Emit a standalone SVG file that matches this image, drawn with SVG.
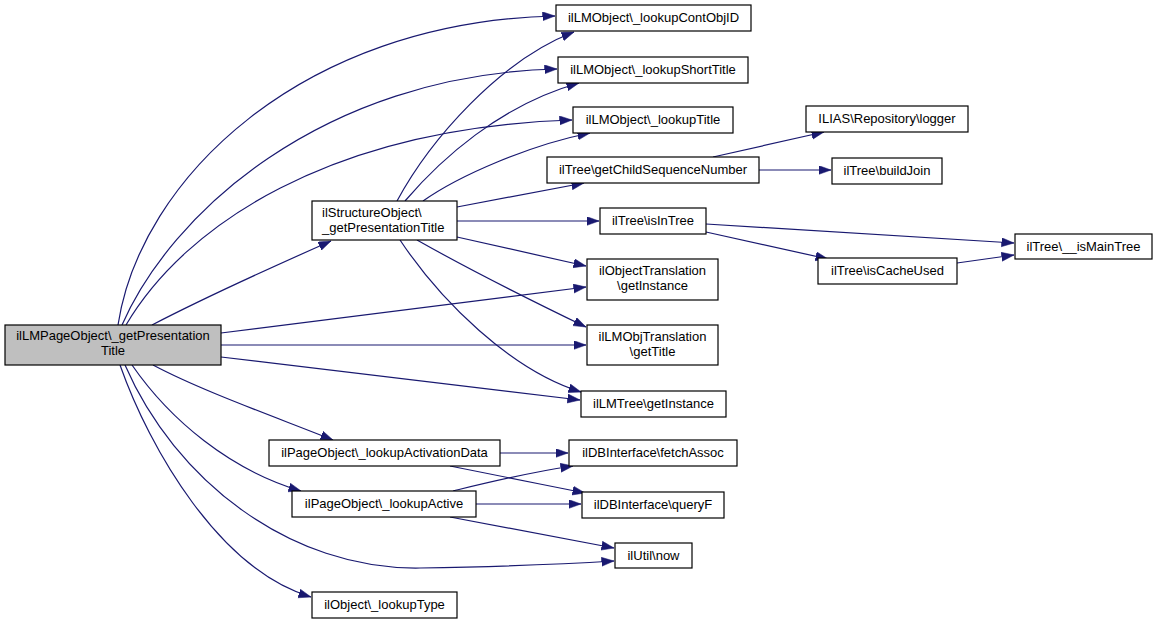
<svg xmlns="http://www.w3.org/2000/svg" width="1157" height="624" viewBox="0 0 1157 624">
<style>
.n rect{fill:#fff;stroke:#000;stroke-width:1.2}
.n.main rect{fill:#bfbfbf}
.n text{font-family:"Liberation Sans",Arial,sans-serif;font-size:13px;fill:#000;text-anchor:middle}
.n text.l{text-anchor:start}
#edges path{fill:none;stroke:#191970;stroke-width:1.2;marker-end:url(#ah)}
</style>
<defs>
<marker id="ah" markerUnits="userSpaceOnUse" markerWidth="13" markerHeight="10" refX="12.5" refY="4.5" orient="auto">
<path d="M0,0 L12.5,4.5 L0,9 z" fill="#191970" stroke="#191970" stroke-width="0.5"/>
</marker>
</defs>
<rect width="1157" height="624" fill="#fff"/>
<g id="edges">
<path d="M118,325 C140,180 300,22 555,16"/>
<path d="M122,325 C170,215 320,75 557,69"/>
<path d="M126,325 C185,225 330,128 572,120"/>
<path d="M152,325 C200,300 270,268 331,241"/>
<path d="M221,333 L586,287"/>
<path d="M221,345 L586,345"/>
<path d="M221,357 L580,400"/>
<path d="M153,365 C200,390 270,415 333,440"/>
<path d="M132,365 C170,420 230,470 301,491"/>
<path d="M125,365 C175,480 290,570 420,568 C480,567 550,565 614,561"/>
<path d="M120,365 C150,450 220,570 311,597"/>
<path d="M397,201 C430,140 500,60 574,32"/>
<path d="M405,201 C440,160 500,105 579,83"/>
<path d="M423,201 C460,175 530,145 590,133"/>
<path d="M457,207 L584,183"/>
<path d="M457,221 L599,221"/>
<path d="M457,237 L586,266"/>
<path d="M417,240 C470,270 530,300 586,327"/>
<path d="M400,240 C440,300 510,370 581,392"/>
<path d="M713,157 L824,132"/>
<path d="M759,170 L831,170"/>
<path d="M706,224 L1014,243"/>
<path d="M706,232 L828,259"/>
<path d="M957,263 L1014,255"/>
<path d="M500,453 L568,453"/>
<path d="M450,466 C500,476 540,484 585,493"/>
<path d="M453,491 C490,482 530,472 573,466"/>
<path d="M476,504 L581,504"/>
<path d="M450,517 L614,548"/>
</g>
<g id="n_main" class="n main"><rect x="5" y="325" width="216" height="40"/><text x="113" y="340">ilLMPageObject\_getPresentation</text><text x="113" y="355">Title</text></g>
<g id="n_struct" class="n"><rect x="312" y="201" width="145" height="39"/><text class="l" x="322" y="217">ilStructureObject\</text><text class="l" x="322" y="232">_getPresentationTitle</text></g>
<g id="n_contobj" class="n"><rect x="556" y="5" width="195" height="26"/><text x="653.5" y="22">ilLMObject\_lookupContObjID</text></g>
<g id="n_shorttitle" class="n"><rect x="558" y="57" width="190" height="26"/><text x="653" y="74">ilLMObject\_lookupShortTitle</text></g>
<g id="n_title" class="n"><rect x="573" y="107" width="160" height="26"/><text x="653" y="124">ilLMObject\_lookupTitle</text></g>
<g id="n_childseq" class="n"><rect x="547" y="157" width="212" height="26"/><text x="653" y="174">ilTree\getChildSequenceNumber</text></g>
<g id="n_isintree" class="n"><rect x="600" y="208" width="106" height="26"/><text x="653" y="225">ilTree\isInTree</text></g>
<g id="n_objtrans" class="n"><rect x="587" y="259" width="131" height="41"/><text x="652.5" y="275">ilObjectTranslation</text><text x="652.5" y="290">\getInstance</text></g>
<g id="n_lmobjtrans" class="n"><rect x="587" y="325" width="131" height="40"/><text x="652.5" y="341">ilLMObjTranslation</text><text x="652.5" y="356">\getTitle</text></g>
<g id="n_lmtree" class="n"><rect x="581" y="391" width="145" height="26"/><text x="653.5" y="408">ilLMTree\getInstance</text></g>
<g id="n_logger" class="n"><rect x="806" y="106" width="162" height="26"/><text x="887" y="123">ILIAS\Repository\logger</text></g>
<g id="n_buildjoin" class="n"><rect x="832" y="158" width="110" height="26"/><text x="887" y="175">ilTree\buildJoin</text></g>
<g id="n_cacheused" class="n"><rect x="818" y="258" width="139" height="26"/><text x="887.5" y="275">ilTree\isCacheUsed</text></g>
<g id="n_maintree" class="n"><rect x="1015" y="234" width="137" height="25"/><text x="1083.5" y="251">ilTree\__isMainTree</text></g>
<g id="n_activation" class="n"><rect x="269" y="440" width="231" height="26"/><text x="384.5" y="457">ilPageObject\_lookupActivationData</text></g>
<g id="n_fetch" class="n"><rect x="569" y="440" width="168" height="26"/><text x="653" y="457">ilDBInterface\fetchAssoc</text></g>
<g id="n_active" class="n"><rect x="292" y="491" width="184" height="26"/><text x="384" y="508">ilPageObject\_lookupActive</text></g>
<g id="n_queryf" class="n"><rect x="582" y="492" width="142" height="26"/><text x="653" y="509">ilDBInterface\queryF</text></g>
<g id="n_now" class="n"><rect x="615" y="543" width="77" height="25"/><text x="653.5" y="560">ilUtil\now</text></g>
<g id="n_type" class="n"><rect x="312" y="592" width="145" height="26"/><text x="384.5" y="609">ilObject\_lookupType</text></g>
</svg>
